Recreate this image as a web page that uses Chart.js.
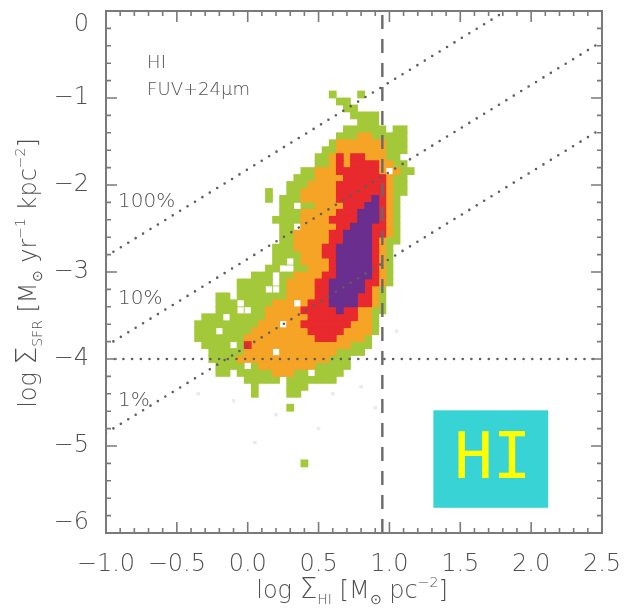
<!DOCTYPE html>
<html>
<head>
<meta charset="utf-8">
<title>HI surface density vs SFR surface density</title>
<script src="https://cdn.jsdelivr.net/npm/chart.js@4.4.0/dist/chart.umd.min.js"></script>
<style>
  html, body { margin: 0; padding: 0; background: #fff; }
  #wrap { width: 624px; height: 612px; }
</style>
</head>
<body>
<div id="wrap"><canvas id="chart" width="624" height="612"></canvas></div>
<script>
// axes
var xRange = [-1.0, 2.5];
var yRange = [-6, 0];
var xTickValues = [-1.0, -0.5, 0.0, 0.5, 1.0, 1.5, 2.0, 2.5];
var xTickLabels = ['\u22121.0', '\u22120.5', '0.0', '0.5', '1.0', '1.5', '2.0', '2.5'];
var yTickValues = [0, -1, -2, -3, -4, -5, -6];
var yTickLabels = ['0', '\u22121', '\u22122', '\u22123', '\u22124', '\u22125', '\u22126'];

// pixel bins: log Sigma_HI starts at -0.55 (step 0.05), log Sigma_SFR starts at -0.8 (step -0.08)
var binX0 = -0.55, binDX = 0.05;
var binY0 = -0.8, binDY = 0.08;

// density contour levels, each run is [row, firstColumn, lastColumn]
var greenRuns = [
  [2, 23, 23], [2, 27, 27], [3, 24, 25], [4, 25, 26], [5, 26, 29], [6, 27, 29],
  [7, 25, 30], [7, 32, 33], [8, 24, 33], [9, 23, 33], [10, 22, 33], [11, 21, 32],
  [12, 21, 33], [13, 19, 33], [14, 18, 33], [15, 17, 33], [16, 14, 14], [16, 17, 33],
  [17, 14, 14], [17, 16, 32], [18, 16, 17], [18, 19, 32], [19, 16, 32], [20, 15, 32],
  [21, 16, 17], [21, 19, 32], [22, 16, 32], [23, 16, 32], [24, 15, 31], [25, 15, 31],
  [26, 15, 31], [27, 14, 15], [27, 18, 31], [28, 12, 14], [28, 16, 31], [29, 10, 14],
  [29, 16, 31], [30, 10, 30], [31, 7, 8], [31, 10, 30], [32, 7, 9], [32, 11, 30],
  [33, 7, 30], [34, 5, 29], [35, 4, 29], [36, 4, 29], [37, 4, 28], [38, 5, 28],
  [39, 6, 27], [40, 6, 25], [41, 7, 25], [42, 7, 8], [42, 10, 24], [43, 11, 15],
  [43, 17, 23], [44, 12, 12], [44, 17, 19], [45, 12, 12], [45, 17, 18], [47, 17, 17],
  [55, 19, 19], [13, 34, 34]
];
var orangeRuns = [
  [8, 27, 28], [9, 24, 30], [10, 24, 30], [11, 23, 30], [12, 23, 31], [13, 21, 32],
  [14, 21, 31], [15, 20, 31], [16, 19, 31], [17, 19, 31], [18, 21, 31], [19, 19, 31],
  [20, 19, 31], [21, 19, 31], [22, 18, 31], [23, 18, 30], [24, 18, 30], [25, 19, 30],
  [26, 19, 30], [27, 20, 30], [28, 18, 30], [29, 17, 30], [30, 17, 29], [31, 17, 29],
  [32, 15, 29], [33, 14, 28], [34, 14, 28], [35, 13, 28], [36, 12, 28], [37, 11, 27],
  [38, 12, 25], [39, 11, 23], [40, 10, 22], [41, 13, 20], [42, 15, 17]
];
var redRuns = [
  [11, 24, 24], [11, 26, 27], [12, 24, 24], [12, 26, 29], [13, 24, 29], [14, 25, 30],
  [15, 24, 30], [16, 24, 30], [17, 24, 30], [18, 25, 30], [19, 24, 30], [20, 23, 30],
  [21, 24, 30], [22, 23, 30], [23, 23, 29], [24, 22, 29], [25, 22, 29], [26, 23, 29],
  [27, 23, 29], [28, 22, 29], [29, 21, 29], [30, 21, 28], [31, 21, 28], [32, 20, 28],
  [33, 19, 26], [34, 20, 26], [35, 19, 25], [36, 20, 24], [37, 21, 23], [38, 11, 11]
];
var purpleRuns = [
  [17, 29, 29], [18, 28, 29], [19, 27, 29], [20, 27, 29], [21, 26, 28], [22, 25, 28],
  [23, 25, 28], [24, 24, 28], [25, 24, 28], [26, 24, 28], [27, 24, 28], [28, 24, 28],
  [29, 23, 27], [30, 23, 27], [31, 23, 26], [32, 23, 26], [33, 24, 24]
];
// empty bins inside the contours
var gapRuns = [
  [30, 14, 15], [33, 10, 11], [34, 8, 8], [36, 7, 7], [38, 9, 9], [39, 15, 15],
  [41, 11, 11], [32, 18, 18], [13, 31, 31], [26, 17, 17], [35, 16, 16], [42, 20, 20]
];
// single faint pixels below the lowest contour
var faintRuns = [
  [36, 32, 32], [40, 30, 30], [44, 27, 27], [45, 4, 4], [45, 23, 23], [46, 9, 9],
  [47, 29, 29], [48, 15, 15], [50, 21, 21], [52, 12, 12]
];

// constant efficiency lines: log SFR = log HI + offset
var effLabels = ['100%', '10%', '1%'];
var effOffsets = [-1.82, -2.85, -3.85];
var effLabelY = [-2.25, -3.37, -4.54];

var sfrLimit = -4;       // horizontal dotted line
var hiSaturation = 0.95; // vertical dashed line

var panelNotes = ['HI', 'FUV+24\u03bcm'];
var boxLabel = 'HI';

var textColor = '#505050';
var frameColor = '#7a7a7a';
var lineColor = '#5e5e5e';

function runsToPoints(runs) {
  var pts = [];
  runs.forEach(function (r) {
    for (var c = r[1]; c <= r[2]; c++) {
      pts.push({ x: binX0 + c * binDX, y: binY0 - r[0] * binDY });
    }
  });
  return pts;
}

// square markers that fill one bin
function cellRadius(ctx) {
  var xs = ctx.chart.scales.x;
  var w = Math.abs(xs.getPixelForValue(binDX) - xs.getPixelForValue(0));
  return (w + 0.7) / Math.SQRT2;
}

function densityLayer(runs, color, order, radius) {
  return {
    data: runsToPoints(runs),
    pointStyle: 'rect',
    pointRadius: radius || cellRadius,
    pointBackgroundColor: color,
    pointBorderWidth: 0,
    showLine: false,
    order: order
  };
}

function dotted(points) {
  return {
    data: points,
    showLine: true,
    pointRadius: 0,
    borderColor: lineColor,
    borderWidth: 2.6,
    borderDash: [0, 8.7],
    borderCapStyle: 'round',
    order: 0
  };
}

var datasets = [
  densityLayer(faintRuns, '#ebe9f1', 6, 2.5),
  densityLayer(greenRuns, '#a3c93a', 5),
  densityLayer(orangeRuns, '#f5a426', 4),
  densityLayer(redRuns, '#e8292d', 3),
  densityLayer(purpleRuns, '#6a2f8e', 2),
  densityLayer(gapRuns, '#ffffff', 1, function (ctx) { return cellRadius(ctx) * 0.8; })
];

effOffsets.forEach(function (off) {
  var x1 = Math.min(xRange[1], yRange[1] - off);
  datasets.push(dotted([{ x: xRange[0], y: xRange[0] + off }, { x: x1, y: x1 + off }]));
});
datasets.push(dotted([{ x: xRange[0], y: sfrLimit }, { x: xRange[1], y: sfrLimit }]));
datasets.push({
  data: [{ x: hiSaturation, y: yRange[0] }, { x: hiSaturation, y: yRange[1] }],
  showLine: true,
  pointRadius: 0,
  borderColor: '#6a6a6a',
  borderWidth: 2.4,
  borderDash: [14, 10],
  order: 0
});

// text with sub/superscripts: runs of [text, kind]
var FONT = '"DejaVu Sans"';
function runFont(kind) {
  if (kind === 'big') return '200 28px ' + FONT;
  if (kind === 'sub' || kind === 'sup') return '200 14px ' + FONT;
  return '200 24px ' + FONT;
}
function runShift(kind) {
  if (kind === 'sub') return 6;
  if (kind === 'sup') return -11;
  return 0;
}
function drawRich(ctx, runs, x, y, angle) {
  var total = 0;
  runs.forEach(function (r) { ctx.font = runFont(r[1]); total += ctx.measureText(r[0]).width; });
  ctx.save();
  ctx.translate(x, y);
  ctx.rotate(angle);
  ctx.textBaseline = 'alphabetic';
  ctx.textAlign = 'left';
  var pos = -total / 2;
  runs.forEach(function (r) {
    ctx.font = runFont(r[1]);
    ctx.fillText(r[0], pos, runShift(r[1]));
    pos += ctx.measureText(r[0]).width;
  });
  ctx.restore();
}

var decorations = {
  id: 'decorations',
  afterDatasetsDraw: function (chart) {
    var ctx = chart.ctx, xs = chart.scales.x, ys = chart.scales.y;
    // label box
    var bx0 = xs.getPixelForValue(1.31), bx1 = xs.getPixelForValue(2.12);
    var by0 = ys.getPixelForValue(-4.59), by1 = ys.getPixelForValue(-5.71);
    ctx.save();
    ctx.fillStyle = '#37d3d5';
    ctx.fillRect(bx0, by0, bx1 - bx0, by1 - by0);
    ctx.fillStyle = '#ffff00';
    ctx.font = '64px "DejaVu Sans Mono"';
    ctx.textAlign = 'center';
    ctx.textBaseline = 'middle';
    ctx.fillText(boxLabel, (bx0 + bx1) / 2 + 2, (by0 + by1) / 2 + 2);
    ctx.restore();
  },
  afterDraw: function (chart) {
    var ctx = chart.ctx, a = chart.chartArea, xs = chart.scales.x, ys = chart.scales.y;
    ctx.save();
    // frame
    ctx.strokeStyle = frameColor;
    ctx.lineWidth = 2;
    ctx.strokeRect(a.left, a.top, a.right - a.left, a.bottom - a.top);
    // inward ticks on all four sides
    ctx.lineWidth = 1.6;
    ctx.beginPath();
    var k, v, p, len;
    for (k = 0; k <= 35; k++) {
      v = xRange[0] + k * 0.1;
      p = xs.getPixelForValue(v);
      len = (k % 5 === 0) ? 11 : 5;
      ctx.moveTo(p, a.bottom); ctx.lineTo(p, a.bottom - len);
      ctx.moveTo(p, a.top); ctx.lineTo(p, a.top + len);
    }
    for (k = 0; k <= 30; k++) {
      v = yRange[0] + k * 0.2;
      p = ys.getPixelForValue(v);
      len = (k % 5 === 0) ? 11 : 5;
      ctx.moveTo(a.left, p); ctx.lineTo(a.left + len, p);
      ctx.moveTo(a.right, p); ctx.lineTo(a.right - len, p);
    }
    ctx.stroke();

    // tick labels
    ctx.fillStyle = textColor;
    ctx.font = '200 24px ' + FONT;
    ctx.textAlign = 'center';
    ctx.textBaseline = 'alphabetic';
    xTickValues.forEach(function (val, i) {
      ctx.fillText(xTickLabels[i], xs.getPixelForValue(val), a.bottom + 38);
    });
    ctx.textAlign = 'right';
    ctx.textBaseline = 'middle';
    yTickValues.forEach(function (val, i) {
      var py = Math.min(Math.max(ys.getPixelForValue(val), a.top + 14), a.bottom - 10);
      ctx.fillText(yTickLabels[i], a.left - 17, py);
    });

    // efficiency labels and panel notes
    ctx.textAlign = 'left';
    ctx.textBaseline = 'alphabetic';
    ctx.font = '200 20px ' + FONT;
    effLabels.forEach(function (lab, i) {
      ctx.fillText(lab, xs.getPixelForValue(-0.915), ys.getPixelForValue(effLabelY[i]));
    });
    ctx.font = '200 18px ' + FONT;
    ctx.fillText(panelNotes[0], xs.getPixelForValue(-0.71), ys.getPixelForValue(-0.655));
    ctx.fillText(panelNotes[1], xs.getPixelForValue(-0.71), ys.getPixelForValue(-0.966));

    // axis titles
    drawRich(ctx, [['log ', 'n'], ['\u03a3', 'big'], ['HI', 'sub'], [' [M', 'n'], ['\u2299', 'sub'],
      [' pc', 'n'], ['\u22122', 'sup'], [']', 'n']], 352, 598, 0);
    drawRich(ctx, [['log ', 'n'], ['\u03a3', 'big'], ['SFR', 'sub'], [' [M', 'n'], ['\u2299', 'sub'],
      [' yr', 'n'], ['\u22121', 'sup'], [' kpc', 'n'], ['\u22122', 'sup'], [']', 'n']], 36, 273, -Math.PI / 2);
    ctx.restore();
  }
};

new Chart(document.getElementById('chart').getContext('2d'), {
  type: 'scatter',
  data: { datasets: datasets },
  options: {
    responsive: false,
    animation: false,
    events: [],
    layout: { padding: { left: 0, right: 22, top: 11, bottom: 0 } },
    plugins: { legend: { display: false }, tooltip: { enabled: false } },
    scales: {
      x: {
        type: 'linear', min: xRange[0], max: xRange[1],
        grid: { display: false }, border: { display: false },
        ticks: { display: false },
        afterFit: function (s) { s.height = 79; }
      },
      y: {
        type: 'linear', min: yRange[0], max: yRange[1],
        grid: { display: false }, border: { display: false },
        ticks: { display: false },
        afterFit: function (s) { s.width = 106; }
      }
    }
  },
  plugins: [decorations]
});
</script>
</body>
</html>
